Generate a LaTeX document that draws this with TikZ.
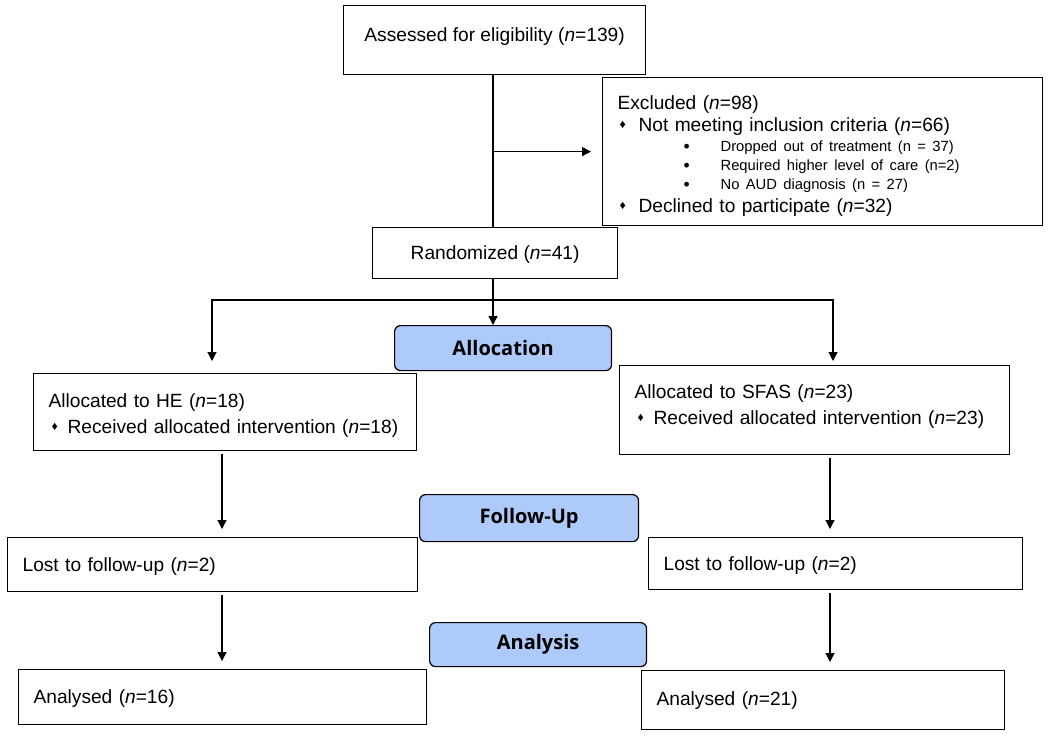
\documentclass[tikz,border=0pt]{standalone}
\usepackage{fontspec}
\setmainfont{Liberation Sans}
\newfontfamily\phasefont{Open Sans}
\usetikzlibrary{arrows.meta}
\definecolor{phaseblue}{RGB}{174,202,250}
\newcommand{\phasecolor}{phaseblue}
\newcommand{\thickness}{0.7pt}
\newcommand{\txtsize}{\fontsize{10.9}{12.5}\selectfont}
\newcommand{\subsize}{\fontsize{8.4}{10.8}\selectfont}
\newcommand{\dia}{\raisebox{0.3ex}{\fontsize{7}{7}\selectfont ♦}}
\newcommand{\bul}{\raisebox{-0.2ex}{\fontsize{10}{10}\selectfont\textbullet}}

\tikzset{
  box/.style={draw, line width=\thickness, rectangle, anchor=north west, inner xsep=0.3cm, inner ysep=0pt, align=left, font=\txtsize},
  midbox/.style={draw, line width=\thickness, rectangle, anchor=north west, inner sep=0pt, align=center, font=\txtsize},
  phase/.style={draw, line width=\thickness, fill=\phasecolor, rounded corners=1.2mm, anchor=north west, inner sep=0pt, font=\phasefont\bfseries\fontsize{11.4}{13}\selectfont},
  line/.style={line width=\thickness},
  arr/.style={line width=\thickness, -{Triangle[length=1.8mm,width=1.8mm]}},
  gap/.style={shorten <=0.06cm, shorten >=0.16cm},
}

\begin{document}
\begin{tikzpicture}[x=0.02cm, y=-0.02cm]
\useasboundingbox (0,0) rectangle (1050,735);
%enrolment
\node[midbox, minimum width=6.04cm, minimum height=1.38cm] (assess) at (343,5) {Assessed for eligibility (\textit{n}=139)\\[-6pt]\mbox{}};
\node[box, text width=8.2cm, minimum height=2.96cm] (excl) at (602,77) {\rule{0pt}{13pt}Excluded (\textit{n}=98)\\
\hspace*{0.04cm}\makebox[0.38cm][l]{\dia}Not meeting inclusion criteria (\textit{n}=66)\\[-1.3pt]
{\subsize\hspace*{1.32cm}\makebox[0.74cm][l]{\bul}Dropped out of treatment (n = 37)}\\[-1.7pt]
{\subsize\hspace*{1.32cm}\makebox[0.74cm][l]{\bul}Required higher level of care (n=2)}\\[-1.7pt]
{\subsize\hspace*{1.32cm}\makebox[0.74cm][l]{\bul}No AUD diagnosis (n = 27)}\\[0.6pt]
\hspace*{0.04cm}\makebox[0.38cm][l]{\dia}Declined to participate (\textit{n}=32)};
\node[midbox, minimum width=4.9cm, minimum height=1.02cm] (rand) at (372,227) {\rule{0pt}{10pt}Randomized (\textit{n}=41)};
%allocation
\node[phase, minimum width=4.34cm, minimum height=0.9cm] (alloc) at (394,325) {Allocation};
\node[box, text width=7.06cm, minimum height=1.54cm] (he) at (33,373) {\rule{0pt}{11.3pt}Allocated to HE (\textit{n}=18)\\[2.3pt]
\hspace*{0.06cm}\makebox[0.32cm][l]{\dia}Received allocated intervention (\textit{n}=18)};
\node[box, text width=7.2cm, minimum height=1.78cm] (sfas) at (619,365) {Allocated to SFAS (\textit{n}=23)\\[2.3pt]
\hspace*{0.06cm}\makebox[0.32cm][l]{\dia}Received allocated intervention (\textit{n}=23)\\[-6.3pt]\mbox{}};
%follow-up
\node[phase, minimum width=4.38cm, minimum height=0.94cm] (fup) at (419,494) {Follow-Up};
\node[box, text width=7.6cm, minimum height=1.08cm] (lostl) at (7,537) {\rule{0pt}{10.6pt}Lost to follow-up (\textit{n}=2)};
\node[box, text width=6.88cm, minimum height=1.04cm] (lostr) at (648,537) {\rule{0pt}{10.6pt}Lost to follow-up (\textit{n}=2)};
%analysis
\node[phase, minimum width=4.34cm, minimum height=0.88cm] (anal) at (429,622) {Analysis};
\node[box, text width=7.56cm, minimum height=1.1cm] (anl) at (18,669) {\rule{0pt}{10pt}Analysed (\textit{n}=16)};
\node[box, text width=6.66cm, minimum height=1.18cm] (anr) at (641,670) {Analysed (\textit{n}=21)};
%connectors
\coordinate (split) at (493,300);
\coordinate (ltip) at (212,361);
\coordinate (rtip) at (833,361);
\coordinate (lcol) at (222,0);
\coordinate (rcol) at (830,0);
\draw[line] (assess.south -| split) -- (rand.north -| split);
\draw[arr, shorten >=0.22cm] (excl.west -| split) -- (excl.west);
\draw[line] (rand.south -| split) -- (split);
\draw[arr] (split) -- (alloc.north -| split);
\draw[arr] (split) -| (ltip);
\draw[arr] (split) -| (rtip);
\draw[arr, gap] (he.south -| lcol) -- (lostl.north -| lcol);
\draw[arr, gap] (sfas.south -| rcol) -- (lostr.north -| rcol);
\draw[arr, gap] (lostl.south -| lcol) -- (anl.north -| lcol);
\draw[arr, gap] (lostr.south -| rcol) -- (anr.north -| rcol);
\end{tikzpicture}
\end{document}
